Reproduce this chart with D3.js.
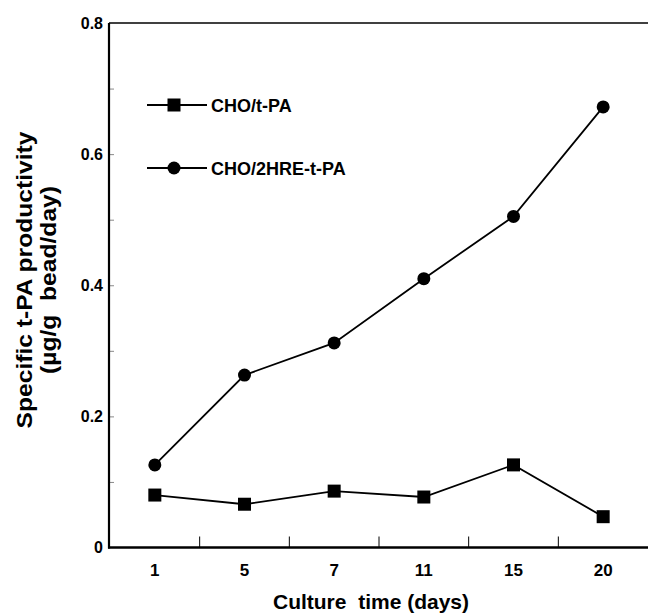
<!DOCTYPE html>
<html>
<head>
<meta charset="utf-8">
<script src="https://cdn.jsdelivr.net/npm/d3@7"></script>
<style>
  body { margin: 0; background: #fff; }
  text { font-family: "Liberation Sans", Arial, sans-serif; font-weight: bold; fill: #000; white-space: pre; }
</style>
</head>
<body>
<script>
// chart data
const days = ["1", "5", "7", "11", "15", "20"];
const choTpa = [0.080, 0.066, 0.086, 0.077, 0.126, 0.047];
const cho2hreTpa = [0.126, 0.263, 0.312, 0.410, 0.505, 0.672];
const yTickValues = [0, 0.2, 0.4, 0.6, 0.8];
const yMinorValues = [0.1, 0.2, 0.3, 0.4, 0.5, 0.6, 0.7];
const seriesNames = ["CHO/t-PA", "CHO/2HRE-t-PA"];

// dimensions
const WIDTH = 648;
const HEIGHT = 613;
const MARGIN = {top: 23, bottom: 65.5, left: 109, right: 0};

let SVG = d3.select('body')
            .append('svg')
            .attr('width', WIDTH)
            .attr('height', HEIGHT);

// x is categorical, each day gets an equal band
const xScale = d3.scaleBand()
                 .domain(days)
                 .range([MARGIN.left + 1, WIDTH])
                 .padding(0);

const yScale = d3.scaleLinear()
                 .domain([0, 0.8])
                 .range([HEIGHT - MARGIN.bottom, MARGIN.top]);

const xMid = d => xScale(d) + xScale.bandwidth() / 2;

// top border (right border falls outside the picture)
SVG.append('line')
   .attr('x1', MARGIN.left).attr('x2', WIDTH)
   .attr('y1', yScale(0.8)).attr('y2', yScale(0.8))
   .attr('stroke', '#000').attr('stroke-width', 1.5);

// minor y ticks, pointing inward
SVG.append('g')
   .attr('transform', 'translate(' + MARGIN.left + ',0)')
   .call(d3.axisRight(yScale).tickValues(yMinorValues).tickSize(5).tickFormat(''))
   .call(g => g.select('.domain').remove())
   .call(g => g.selectAll('line').attr('stroke', '#888').attr('stroke-width', 1));

// y axis labels
let yAxis = d3.axisLeft(yScale)
              .tickValues(yTickValues)
              .tickSize(0)
              .tickPadding(6)
              .tickFormat(d => d === 0 ? '0' : d3.format('.1f')(d));

SVG.append('g')
   .attr('transform', 'translate(' + MARGIN.left + ',0)')
   .call(yAxis)
   .call(g => g.select('.domain').remove())
   .call(g => g.selectAll('text')
               .style('font-size', '16px')
               .attr('fill', '#000'));

// x ticks sit between the days, pointing up into the plot
const bandEdges = days.slice(1).map(d => xScale(d));
SVG.append('g')
   .selectAll('line')
   .data(bandEdges)
   .enter()
   .append('line')
   .attr('x1', d => d).attr('x2', d => d)
   .attr('y1', yScale(0)).attr('y2', yScale(0) - 11)
   .attr('stroke', '#000').attr('stroke-width', 1);

// x axis labels
let xAxis = d3.axisBottom(xScale).tickSize(0).tickPadding(16);
SVG.append('g')
   .attr('transform', 'translate(0,' + yScale(0) + ')')
   .call(xAxis)
   .call(g => g.select('.domain').remove())
   .call(g => g.selectAll('text')
               .style('font-size', '17px')
               .attr('fill', '#000'));

// main axis lines
SVG.append('line')
   .attr('x1', MARGIN.left).attr('x2', MARGIN.left)
   .attr('y1', yScale(0.8)).attr('y2', yScale(0) + 1)
   .attr('stroke', '#000').attr('stroke-width', 2.2);
SVG.append('line')
   .attr('x1', MARGIN.left - 1).attr('x2', WIDTH)
   .attr('y1', yScale(0)).attr('y2', yScale(0))
   .attr('stroke', '#000').attr('stroke-width', 2.5);

// lines
const line = d3.line()
               .x((d, i) => xMid(days[i]))
               .y(d => yScale(d));

SVG.append('path')
   .datum(choTpa)
   .attr('d', line)
   .attr('fill', 'none')
   .attr('stroke', '#000')
   .attr('stroke-width', 1.8);

SVG.append('path')
   .datum(cho2hreTpa)
   .attr('d', line)
   .attr('fill', 'none')
   .attr('stroke', '#000')
   .attr('stroke-width', 1.8);

// markers
const sq = 13;
SVG.selectAll('rect.cho')
   .data(choTpa)
   .enter()
   .append('rect')
   .attr('class', 'cho')
   .attr('x', (d, i) => xMid(days[i]) - sq / 2)
   .attr('y', d => yScale(d) - sq / 2)
   .attr('width', sq)
   .attr('height', sq)
   .attr('fill', '#000');

SVG.selectAll('circle.hre')
   .data(cho2hreTpa)
   .enter()
   .append('circle')
   .attr('class', 'hre')
   .attr('cx', (d, i) => xMid(days[i]))
   .attr('cy', d => yScale(d))
   .attr('r', 6.5)
   .attr('fill', '#000');

// legend
const legend = SVG.append('g').attr('transform', 'translate(147,105)');
seriesNames.forEach((name, i) => {
  const row = legend.append('g').attr('transform', 'translate(0,' + i * 63 + ')');
  row.append('line')
     .attr('x1', 0).attr('x2', 60)
     .attr('stroke', '#000').attr('stroke-width', 1.8);
  if (i === 0) {
    row.append('rect')
       .attr('x', 27 - sq / 2).attr('y', -sq / 2)
       .attr('width', sq).attr('height', sq)
       .attr('fill', '#000');
  } else {
    row.append('circle')
       .attr('cx', 27).attr('r', 6.5)
       .attr('fill', '#000');
  }
  row.append('text')
     .attr('x', 64)
     .attr('y', 6.5)
     .style('font-size', '18px')
     .text(name);
});

// axis titles
SVG.append('text')
   .attr('x', 371)
   .attr('y', 609)
   .attr('text-anchor', 'middle')
   .style('font-size', '21px')
   .text('Culture  time (days)');

// y title is stretched a little along its length, like the scan
const yTitle = SVG.append('text')
   .attr('transform', 'translate(0,280) rotate(-90) scale(1.12,1)')
   .attr('text-anchor', 'middle')
   .style('font-size', '22px');
yTitle.append('tspan')
   .attr('x', 0).attr('y', 32)
   .text('Specific t-PA productivity');
yTitle.append('tspan')
   .attr('x', 0).attr('y', 56)
   .text('(\u00b5g/g  bead/day)');
</script>
</body>
</html>
